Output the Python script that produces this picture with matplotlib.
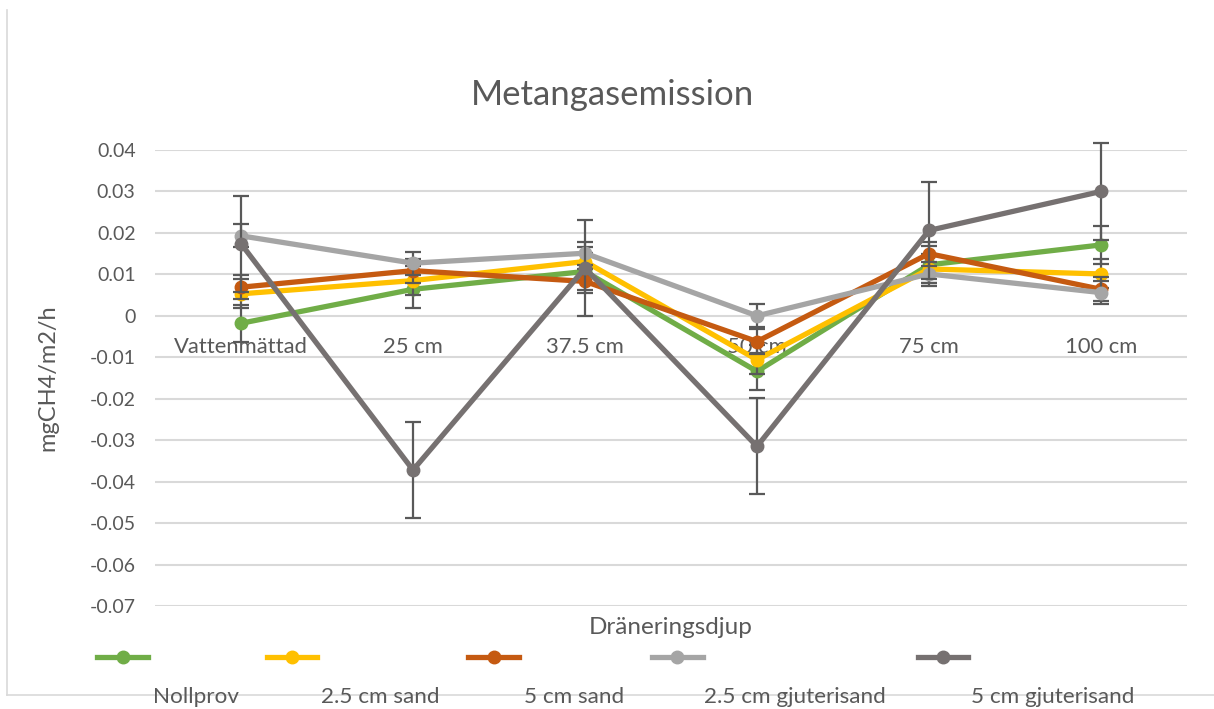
import numpy as np
import matplotlib
matplotlib.use("Agg")
import matplotlib.pyplot as plt
from matplotlib.lines import Line2D
from matplotlib.ticker import FixedLocator, FixedFormatter

# ---- data ----
categories = ["Vattenmättad", "25 cm", "37.5 cm", "50 cm", "75 cm", "100 cm"]
series_names = ["Nollprov", "2.5 cm sand", "5 cm sand", "2.5 cm gjuterisand", "5 cm gjuterisand"]
nollprov = [-0.0018, 0.0064, 0.0107, -0.0134, 0.0123, 0.0171]
sand_25 = [0.0053, 0.0085, 0.0131, -0.0106, 0.0113, 0.0101]
sand_5 = [0.0069, 0.0109, 0.0083, -0.0062, 0.0150, 0.0064]
gjuteri_25 = [0.0193, 0.0127, 0.0151, 0.0000, 0.0101, 0.0056]
gjuteri_5 = [0.0174, -0.0372, 0.0115, -0.0315, 0.0206, 0.0300]
# standard-error bar sizes per series
errors = [0.0045, 0.0035, 0.0029, 0.0028, 0.0116]
ytick_values = [-0.07, -0.06, -0.05, -0.04, -0.03, -0.02, -0.01, 0.0, 0.01, 0.02, 0.03, 0.04]
ytick_labels = ["-0.07", "-0.06", "-0.05", "-0.04", "-0.03", "-0.02", "-0.01", "0", "0.01", "0.02", "0.03", "0.04"]

all_series = [nollprov, sand_25, sand_5, gjuteri_25, gjuteri_5]
colors = ["#70AD47", "#FFC000", "#C55A11", "#A5A5A5", "#767171"]

plt.rcParams['font.family'] = ['Lato', 'DejaVu Sans']
W, H = 1214, 709
fig = plt.figure(figsize=(W / 100, H / 100), dpi=100)
ax = fig.add_axes([155 / W, 1 - 606 / H, 1032 / W, 456 / H])

x = np.arange(len(categories))
for i, (vals, col, err) in enumerate(zip(all_series, colors, errors)):
    ax.errorbar(x, vals, yerr=err, color=col, lw=3.8, marker='o', ms=9,
                ecolor="#595959", elinewidth=1.6, capsize=6, capthick=1.6,
                zorder=3 + i, clip_on=False)

ax.set_xlim(-0.5, len(categories) - 0.5)
ax.set_ylim(-0.07, 0.04)
ax.yaxis.set_major_locator(FixedLocator(ytick_values))
ax.yaxis.set_major_formatter(FixedFormatter(ytick_labels))
ax.grid(axis='y', color="#D9D9D9", lw=1.5, zorder=0)
ax.set_axisbelow(True)
for s in ax.spines.values():
    s.set_visible(False)
ax.spines['bottom'].set_position(('data', 0))
ax.set_xticks(x)
ax.set_xticklabels(categories)
ax.tick_params(axis='x', length=0, pad=15, labelsize=15.8, labelcolor="#595959")
ax.tick_params(axis='y', length=0, pad=14, labelsize=14, labelcolor="#595959")

ax.set_ylabel("mgCH4/m2/h", fontsize=17, color="#595959", labelpad=22)
fig.text(671 / W, 1 - 627 / H, "Dräneringsdjup", ha='center', va='center',
         fontsize=17.5, color="#595959")
fig.text(612 / W, 1 - 95 / H, "Metangasemission", ha='center', va='center',
         fontsize=25, color="#595959")

# legend (manual layout as in the reference)
leg_lines = [(97, 148), (267, 317), (468, 519), (652, 703), (918, 968)]
leg_text_x = [196, 380, 574, 795, 1053]
for (x0, x1), tx, col, name in zip(leg_lines, leg_text_x, colors, series_names):
    fig.add_artist(Line2D([x0 / W, x1 / W], [1 - 657 / H] * 2, color=col, lw=3.8,
                          transform=fig.transFigure))
    fig.add_artist(Line2D([(x0 + x1) / 2 / W], [1 - 657 / H], color=col, marker='o',
                          ms=9, transform=fig.transFigure))
    fig.text(tx / W, 1 - 697 / H, name, ha='center', va='center', fontsize=16.2,
             color="#595959")

# chart frame (left and bottom visible)
fig.add_artist(Line2D([7 / W, 7 / W], [1 - 10 / H, 1 - 695 / H], color="#D9D9D9", lw=1.2,
                      transform=fig.transFigure))
fig.add_artist(Line2D([7 / W, 1.0], [1 - 695 / H, 1 - 695 / H], color="#D9D9D9", lw=1.2,
                      transform=fig.transFigure))

fig.savefig("out.png", dpi=100)
